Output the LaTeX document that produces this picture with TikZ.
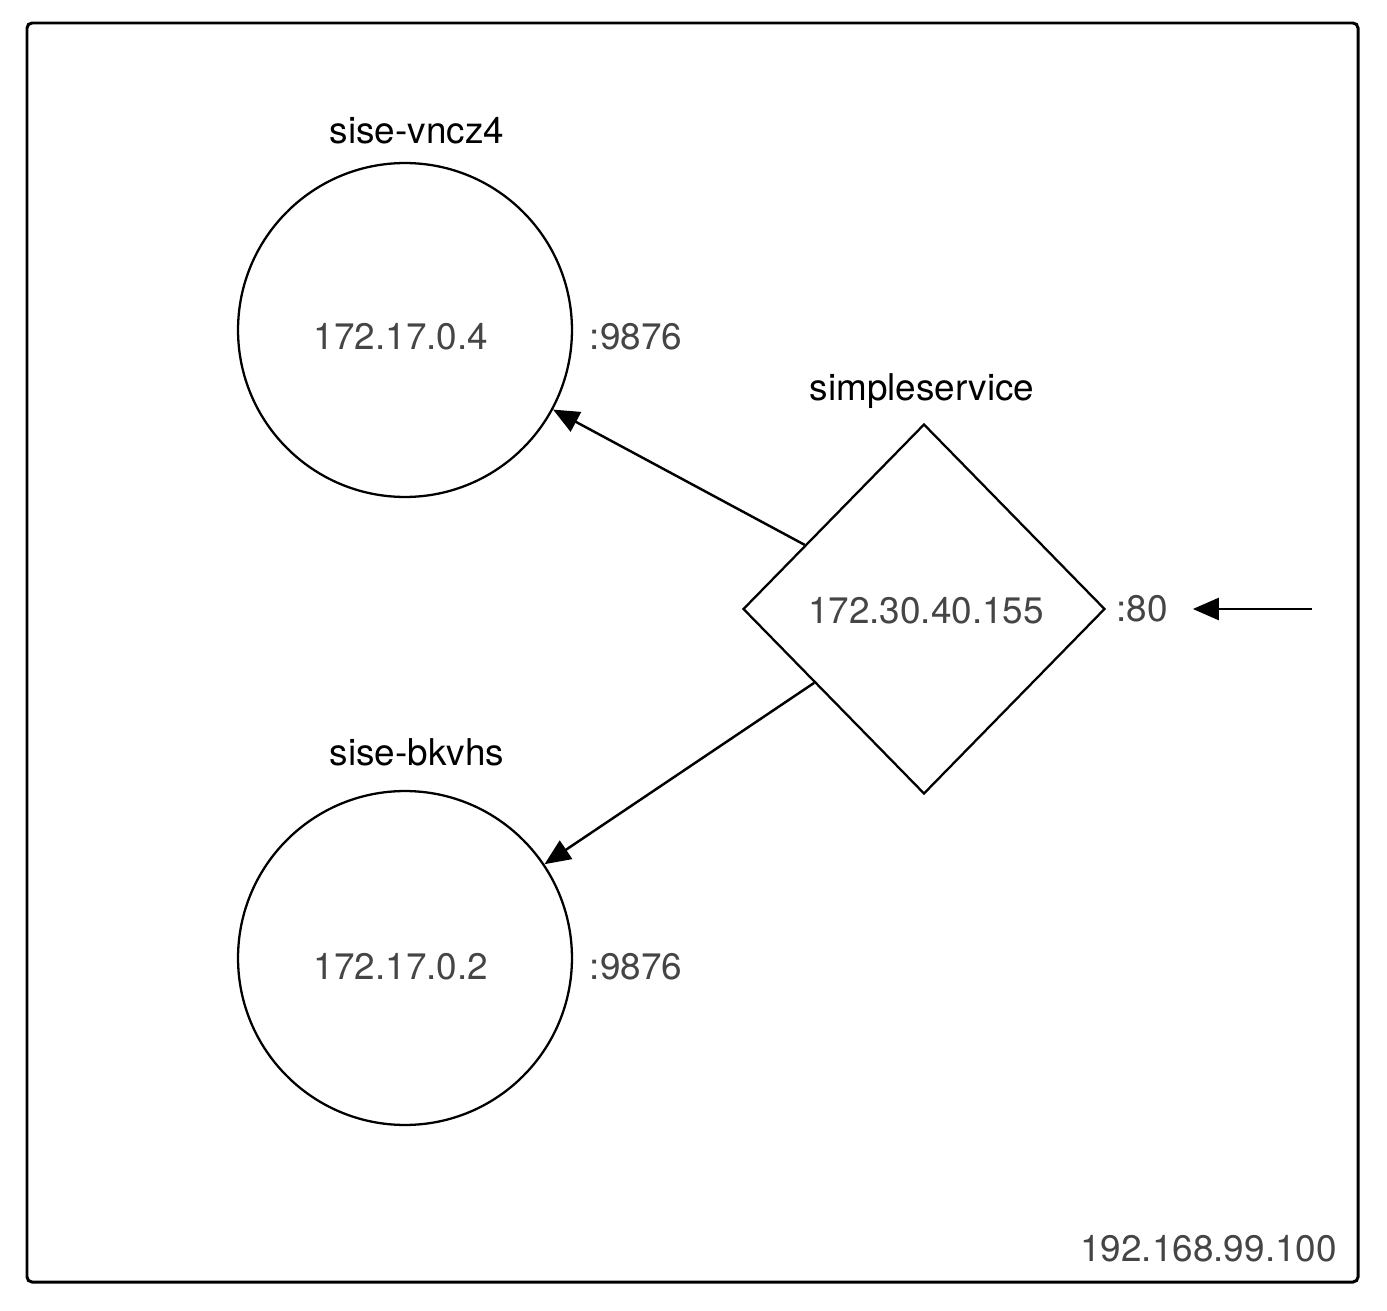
\documentclass[tikz,border=0pt]{standalone}
\usepackage{fontspec}
\setmainfont{TeX Gyre Heros}
\usetikzlibrary{arrows.meta}
\usetikzlibrary{shapes.geometric}
\tikzset{pod/.style = {draw, circle, line width = 1.3pt, minimum size = 6.68cm, inner sep = 0}}
\tikzset{svc/.style = {draw, diamond, line width = 1.3pt, minimum width = 7.24cm, minimum height = 7.4cm, inner sep = 0}}
\tikzset{ip/.style = {text = mgray, font = \fontsize{21}{25}\selectfont}}
\tikzset{lbl/.style = {text = black, font = \fontsize{21}{25}\selectfont}}
\tikzset{arr/.style = {line width = 1.4pt, -{Triangle[length = 0.52cm, width = 0.44cm]}}}
\definecolor{mgray}{rgb}{0.27, 0.27, 0.27}

\begin{document}
\begin{tikzpicture}[x = 0.02cm, y = -0.02cm]
    \useasboundingbox (0, 0) rectangle (1387, 1311);
    \draw [line width = 1.7pt, rounded corners = 0.1cm] (27, 23) rectangle (1358, 1282);

    \node [pod] (vncz) at (405, 330) {};
    \node [ip] (vnczip) at (401, 337) {172.17.0.4};
    \node [lbl] (vnczname) at (417, 131) {sise-vncz4};
    \node [ip] (vnczport) at (636, 337) {:9876};

    \node [pod] (bkvhs) at (405, 958) {};
    \node [ip] (bkvhsip) at (401, 967) {172.17.0.2};
    \node [lbl] (bkvhsname) at (417, 752) {sise-bkvhs};
    \node [ip] (bkvhsport) at (636, 967) {:9876};

    \node [svc] (simple) at (924, 609) {};
    \node [ip] (simpleip) at (926, 611) {172.30.40.155};
    \node [lbl] (simplename) at (922, 391) {simpleservice};
    \node [ip] (simpleport) at (1142, 609) {:80};

    \node [ip, anchor = east] (host) at (1343, 1249) {192.168.99.100};

    \coordinate (ext) at (1312, 609);

    \draw [arr] (simple) -- (vncz);
    \draw [arr] (simple) -- (bkvhs);
    \draw [arr, shorten > = 0.38cm] (ext) -- (simpleport);
  \end{tikzpicture}
\end{document}
